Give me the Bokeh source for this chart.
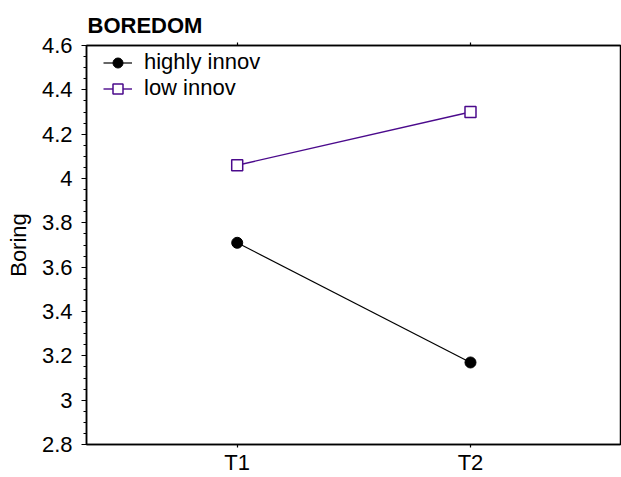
from bokeh.plotting import figure
from bokeh.models import Range1d, FixedTicker, LinearAxis, Legend, LegendItem
from bokeh.embed import file_html
from bokeh.resources import INLINE

# ---- data ----
times = ["T1", "T2"]
x_pos = [1, 2]
highly_innov = [3.71, 3.17]
low_innov = [4.06, 4.30]
y_ticks = [2.8, 3.0, 3.2, 3.4, 3.6, 3.8, 4.0, 4.2, 4.4, 4.6]
y_tick_labels = ["2.8", "3", "3.2", "3.4", "3.6", "3.8", "4", "4.2", "4.4", "4.6"]
y_minor_ticks = [round(2.8 + 0.05 * i, 2) for i in range(37)]

FONT = "Liberation Sans"
PURPLE = "#4B0A8C"
FS = "22px"

p = figure(width=621, height=477, output_backend="svg", toolbar_location=None,
           x_range=Range1d(0.354, 2.643), y_range=Range1d(2.8, 4.6),
           min_border_left=86, min_border_right=1, min_border_top=45, min_border_bottom=31)

p.title.text = "BOREDOM"
p.title.text_font = FONT
p.title.text_font_size = FS
p.title.text_font_style = "bold"
p.title.text_color = "black"
p.title.align = "left"
p.title.offset = 1
p.title.standoff = 10

p.xgrid.visible = False
p.ygrid.visible = False
p.outline_line_color = "black"
p.outline_line_width = 1.5
p.outline_line_alpha = 1.0
p.background_fill_color = "white"
p.border_fill_color = "white"

# y axis
ya = p.yaxis[0]
ya.ticker = FixedTicker(ticks=y_ticks, minor_ticks=y_minor_ticks)
ya.major_label_overrides = {t: l for t, l in zip(y_ticks, y_tick_labels)}
ya.major_tick_out = 5
ya.major_tick_in = 0
ya.minor_tick_out = 3
ya.minor_tick_in = 0
ya.axis_line_width = 1.5
ya.major_tick_line_width = 1.2
ya.minor_tick_line_width = 1.2
ya.major_label_text_font = FONT
ya.major_label_text_font_size = FS
ya.major_label_text_color = "black"
ya.major_label_standoff = 9
ya.axis_label = "Boring"
ya.axis_label_text_font = FONT
ya.axis_label_text_font_size = FS
ya.axis_label_text_font_style = "normal"
ya.axis_label_text_color = "black"
ya.axis_label_standoff = 8

# x axis
xa = p.xaxis[0]
xa.ticker = FixedTicker(ticks=x_pos)
xa.major_label_overrides = {x: t for x, t in zip(x_pos, times)}
xa.major_tick_out = 3
xa.major_tick_in = 0
xa.minor_tick_line_color = None
xa.axis_line_width = 1.5
xa.major_tick_line_width = 1.2
xa.major_label_text_font = FONT
xa.major_label_text_font_size = FS
xa.major_label_text_color = "black"
xa.major_label_standoff = 2

# top axis (ticks only)
top = LinearAxis(ticker=FixedTicker(ticks=x_pos),
                 major_label_overrides={x: "" for x in x_pos},
                 major_label_standoff=0, major_tick_out=3, major_tick_in=0,
                 minor_tick_line_color=None, axis_line_width=1.5, major_tick_line_width=1.2)
p.add_layout(top, "above")

# data
l1 = p.line(x_pos, highly_innov, line_color="black", line_width=1.2)
s1 = p.scatter(x_pos, highly_innov, marker="circle", size=11,
               fill_color="black", line_color="black", line_width=1)
l2 = p.line(x_pos, low_innov, line_color=PURPLE, line_width=1.4)
s2 = p.scatter(x_pos, low_innov, marker="square", size=11,
               fill_color="white", line_color=PURPLE, line_width=1.5)

legend = Legend(items=[LegendItem(label="highly innov", renderers=[l1, s1]),
                       LegendItem(label="low innov", renderers=[l2, s2])],
                location=(17, 343), padding=0, spacing=0, margin=0,
                glyph_width=29, glyph_height=25, label_height=25, label_standoff=12,
                label_text_font=FONT, label_text_font_size=FS, label_text_color="black",
                background_fill_alpha=0, border_line_color=None)
p.add_layout(legend)

open("out.html", "w").write(file_html(p, INLINE))
